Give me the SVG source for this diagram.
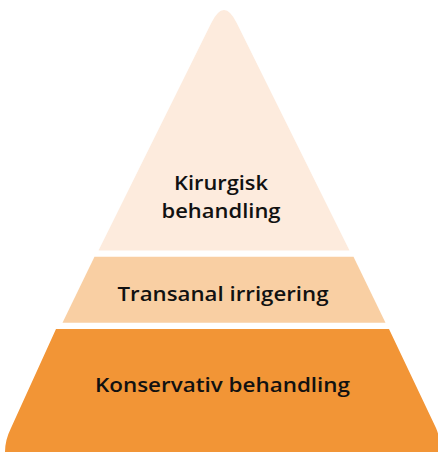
<svg xmlns="http://www.w3.org/2000/svg" width="438" height="452" viewBox="0 0 438 452">
<style>
.lbl{font-family:"Open Sans","Noto Sans","Liberation Sans",sans-serif;font-size:19.5px;font-weight:600;fill:#111111;text-anchor:middle}
</style>
<rect width="438" height="452" fill="#ffffff"/>
<g id="top">
<path d="M98.5,250.5 L211.3,23 Q224,-3 236.7,23 L349.5,250.5 Z" fill="#FDEBDD"/>
<text class="lbl" x="221" y="190" textLength="94" lengthAdjust="spacingAndGlyphs">Kirurgisk</text>
<text class="lbl" x="221" y="217.5" textLength="119" lengthAdjust="spacingAndGlyphs">behandling</text>
</g>
<g id="middle">
<path d="M94.5,256.7 L353.5,256.7 L385.5,322.7 L62.5,322.7 Z" fill="#F9CFA3"/>
<text class="lbl" x="223" y="301" textLength="211" lengthAdjust="spacingAndGlyphs">Transanal irrigering</text>
</g>
<g id="bottom">
<path d="M56,329 L389,329 L436,428 Q441,440 441,452 L441,460 L5,460 L5,452 Q5,440 11,428 Z" fill="#F29536"/>
<text class="lbl" x="222.5" y="391.5" textLength="255" lengthAdjust="spacingAndGlyphs">Konservativ behandling</text>
</g>
<g id="connectors"/>
</svg>
